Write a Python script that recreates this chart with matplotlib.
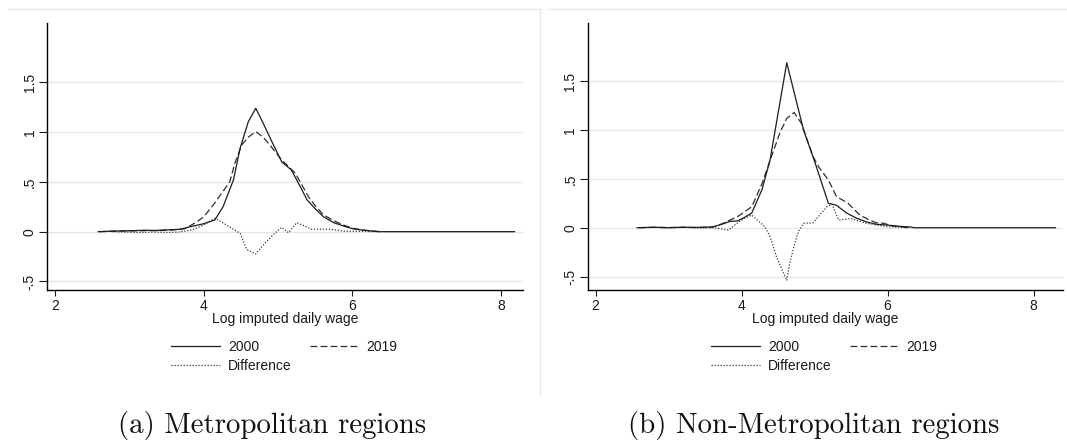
import matplotlib
matplotlib.use("Agg")
import matplotlib.pyplot as plt
from matplotlib.lines import Line2D

# Metropolitan regions
metro_x_2000 = [2.58, 2.75, 2.9, 3.05, 3.2, 3.35, 3.5, 3.68, 3.86, 4.0, 4.15, 4.26, 4.40, 4.49,
                4.60, 4.70, 4.80, 4.90, 5.05, 5.18, 5.30, 5.39, 5.50, 5.61, 5.75, 5.88, 6.0,
                6.13, 6.25, 6.37, 8.18]
metro_y_2000 = [0.0, 0.005, 0.008, 0.01, 0.015, 0.012, 0.018, 0.024, 0.057, 0.08, 0.118, 0.25,
                0.52, 0.84, 1.105, 1.24, 1.09, 0.93, 0.70, 0.62, 0.45, 0.32, 0.23, 0.15, 0.09,
                0.057, 0.03, 0.017, 0.008, 0.0, 0.0]

metro_x_2019 = [2.6, 2.8, 3.0, 3.2, 3.4, 3.6, 3.75, 3.91, 4.0, 4.13, 4.35, 4.42, 4.51, 4.60,
                4.70, 4.80, 4.89, 5.05, 5.23, 5.41, 5.50, 5.61, 5.75, 5.88, 6.0, 6.13, 6.25, 6.37]
metro_y_2019 = [0.0, 0.005, 0.008, 0.01, 0.012, 0.018, 0.03, 0.10, 0.15, 0.27, 0.50, 0.69, 0.87,
                0.95, 1.005, 0.95, 0.87, 0.72, 0.59, 0.35, 0.26, 0.17, 0.11, 0.067, 0.035, 0.017,
                0.008, 0.0]

metro_x_diff = [2.77, 2.95, 3.15, 3.35, 3.55, 3.68, 3.85, 3.95, 4.05, 4.15, 4.30, 4.49, 4.58,
                4.70, 4.82, 4.95, 5.05, 5.14, 5.25, 5.35, 5.45, 5.70, 5.88, 6.13, 6.37]
metro_y_diff = [0.0, -0.005, -0.008, -0.004, -0.008, -0.003, 0.02, 0.05, 0.09, 0.135, 0.07,
                -0.017, -0.18, -0.224, -0.117, -0.02, 0.044, -0.01, 0.09, 0.06, 0.024, 0.025,
                0.005, 0.003, 0.0]

# Non-Metropolitan regions
nonmetro_x_2000 = [2.57, 2.8, 3.0, 3.2, 3.4, 3.61, 3.75, 3.84, 3.95, 4.05, 4.14, 4.28, 4.39,
                   4.62, 4.85, 5.01, 5.19, 5.30, 5.44, 5.57, 5.71, 5.85, 5.99, 6.15, 6.31, 6.36,
                   8.3]
nonmetro_y_2000 = [0.0, 0.005, 0.0, 0.005, 0.003, 0.008, 0.04, 0.065, 0.07, 0.11, 0.15, 0.39,
                   0.69, 1.69, 1.00, 0.66, 0.25, 0.23, 0.15, 0.10, 0.06, 0.035, 0.028, 0.015,
                   0.008, 0.0, 0.0]

nonmetro_x_2019 = [2.6, 2.8, 3.0, 3.2, 3.4, 3.61, 3.75, 3.96, 4.14, 4.28, 4.41, 4.53, 4.62,
                   4.72, 4.82, 4.98, 5.06, 5.19, 5.30, 5.46, 5.62, 5.75, 5.85, 5.95, 6.05, 6.17,
                   6.3]
nonmetro_y_2019 = [0.0, 0.004, 0.002, 0.004, 0.002, 0.008, 0.045, 0.12, 0.215, 0.45, 0.73, 0.98,
                   1.12, 1.18, 1.07, 0.73, 0.62, 0.49, 0.32, 0.25, 0.13, 0.08, 0.05, 0.045,
                   0.02, 0.01, 0.0]

nonmetro_x_diff = [2.9, 3.2, 3.5, 3.61, 3.82, 4.00, 4.14, 4.32, 4.39, 4.48, 4.62, 4.66, 4.73,
                   4.78, 4.85, 4.98, 5.17, 5.24, 5.33, 5.49, 5.71, 6.0, 6.3]
nonmetro_y_diff = [0.0, 0.003, -0.003, 0.0, -0.024, 0.08, 0.13, 0.01, -0.09, -0.30, -0.54,
                   -0.365, -0.16, -0.04, 0.045, 0.05, 0.215, 0.24, 0.08, 0.095, 0.045, 0.01, 0.0]

y_ticks = [-0.5, 0, 0.5, 1, 1.5]
y_tick_labels = ["-.5", "0", ".5", "1", "1.5"]
x_ticks = [2, 4, 6, 8]
x_label = "Log imputed daily wage"
legend_labels = ["2000", "2019", "Difference"]
captions = ["(a) Metropolitan regions", "(b) Non-Metropolitan regions"]

W, H = 1067, 444
plt.rcParams['font.family'] = ['Liberation Sans', 'DejaVu Sans']
text_col = '#1a1a1a'


def px_to_fig(x0, y0, x1, y1):
    # pixel box (left, top, right, bottom) -> figure fraction rect
    return [x0 / W, 1 - y1 / H, (x1 - x0) / W, (y1 - y0) / H]


def draw_panel(fig, rect, xlim, ylim, s2000, s2019, sdiff, legend_xy):
    ax = fig.add_axes(rect)
    ax.set_xlim(xlim)
    ax.set_ylim(ylim)
    for y in y_ticks:
        ax.axhline(y, color='#e6e6e6', linewidth=1.0, zorder=0)

    l1, = ax.plot(*s2000, color='#1c1c1c', linewidth=0.9, zorder=4)
    l2, = ax.plot(*s2019, color='#2e2e2e', linewidth=0.9, linestyle=(0, (5.5, 2.5)), zorder=3)
    l3, = ax.plot(*sdiff, color='#3a3a3a', linewidth=0.9, linestyle=(0, (1.0, 1.4)), zorder=2)

    ax.spines['top'].set_visible(False)
    ax.spines['right'].set_visible(False)
    ax.spines['left'].set_linewidth(1.0)
    ax.spines['bottom'].set_linewidth(1.0)
    ax.spines['left'].set_color('black')
    ax.spines['bottom'].set_color('black')

    ax.set_yticks(y_ticks)
    ax.set_yticklabels(y_tick_labels, rotation=90, va='center')
    ax.set_xticks(x_ticks)
    ax.tick_params(axis='y', length=6, width=0.8, pad=1.5, labelsize=10, colors=text_col)
    ax.tick_params(axis='x', length=4, width=0.8, pad=2.5, labelsize=10, colors=text_col)
    ax.set_xlabel(x_label, fontsize=10, color=text_col, labelpad=-1)

    leg = ax.legend([l1, l3, l2], [legend_labels[0], legend_labels[2], legend_labels[1]],
                    ncol=2, loc='upper left', bbox_to_anchor=legend_xy,
                    bbox_transform=fig.transFigure, frameon=False, fontsize=10,
                    handlelength=3.5, handletextpad=0.6, columnspacing=1.3,
                    labelspacing=0.42, borderpad=0, borderaxespad=0)
    for t in leg.get_texts():
        t.set_color(text_col)
    return ax


fig = plt.figure(figsize=(W / 100, H / 100), dpi=100)
fig.patch.set_facecolor('white')

draw_panel(fig, px_to_fig(47, 23.3, 523.4, 290), (1.892, 8.30), (-0.586, 2.094),
           (metro_x_2000, metro_y_2000), (metro_x_2019, metro_y_2019),
           (metro_x_diff, metro_y_diff), (171 / W, 1 - 339.5 / H))
draw_panel(fig, px_to_fig(587.7, 23.3, 1062.7, 290), (1.893, 8.40), (-0.638, 2.094),
           (nonmetro_x_2000, nonmetro_y_2000), (nonmetro_x_2019, nonmetro_y_2019),
           (nonmetro_x_diff, nonmetro_y_diff), (711 / W, 1 - 339.5 / H))

# faint graph-region borders
border = '#e8e8e8'
fig.add_artist(Line2D([8 / W, 540 / W], [1 - 9 / H, 1 - 9 / H], color=border, linewidth=1))
fig.add_artist(Line2D([540 / W, 540 / W], [1 - 9 / H, 1 - 395 / H], color=border, linewidth=1))
fig.add_artist(Line2D([548 / W, 1067 / W], [1 - 9 / H, 1 - 9 / H], color=border, linewidth=1))

fig.text(272.5 / W, 1 - 433 / H, captions[0], family='cmr10', fontsize=20.8,
         ha='center', va='baseline', color='#111111')
fig.text(813.5 / W, 1 - 433 / H, captions[1], family='cmr10', fontsize=20.8,
         ha='center', va='baseline', color='#111111')

fig.savefig('out.png', dpi=100)
